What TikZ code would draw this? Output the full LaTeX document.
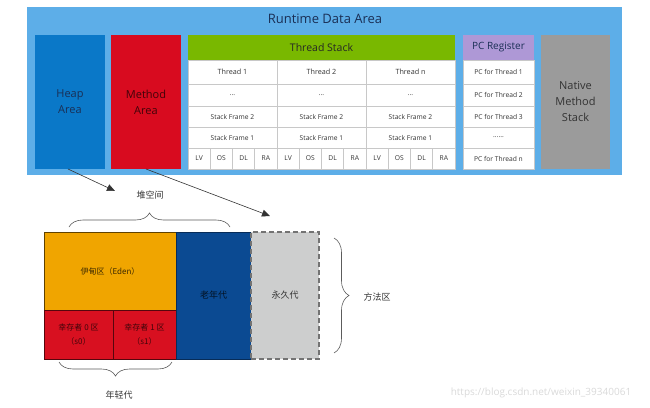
\documentclass[tikz,border=0pt]{standalone}
\usepackage{fontspec}
\setmainfont{Open Sans}
\newfontfamily\cjk{Noto Sans CJK SC}
\usetikzlibrary{decorations.pathreplacing,arrows.meta}
\definecolor{rdacol}{HTML}{5DAEE8}
\definecolor{heapcol}{HTML}{0A78C8}
\definecolor{methcol}{HTML}{D80B1F}
\definecolor{tscol}{HTML}{79B800}
\definecolor{pccol}{HTML}{AE98D6}
\definecolor{natcol}{HTML}{9B9B9B}
\definecolor{edencol}{HTML}{F0A500}
\definecolor{survcol}{HTML}{D81020}
\definecolor{oldcol}{HTML}{0B4A92}
\definecolor{permcol}{HTML}{CDCECE}
\definecolor{gridcol}{HTML}{C8C8C8}
\definecolor{navytxt}{HTML}{1A2F55}
\definecolor{labtxt}{HTML}{333333}
\begin{document}
\begin{tikzpicture}[x=1pt,y=-1pt,
  box/.style={anchor=north west, inner sep=0pt, outer sep=0pt, align=center},
  cell/.style={box, draw=gridcol, fill=white, line width=0.6pt, text=labtxt, font=\fontsize{6.7}{8}\selectfont},
  bigtxt/.style={font=\fontsize{11}{16}\selectfont},
  cjklab/.style={font=\cjk\fontsize{9}{11}\selectfont, text=labtxt},
  arr/.style={draw=labtxt, line width=0.6pt, -{Triangle[length=8pt,width=7pt]}},
  brc/.style={draw=labtxt!80, line width=0.6pt, decorate}
]
\useasboundingbox (0,0) rectangle (650,407);
% Runtime data area
\node[box, fill=rdacol, minimum width=595pt, minimum height=168pt] (rda) at (27,7) {};
\node[font=\fontsize{13}{15}\selectfont, text=navytxt] (rdat) at (325,19) {Runtime Data Area};
\node[box, bigtxt, fill=heapcol, text=navytxt, minimum width=70pt, minimum height=134pt] (heap) at (35,35) {Heap\\Area};
\node[box, bigtxt, fill=methcol, text=black!70!methcol, minimum width=70pt, minimum height=134pt] (meth) at (111,35) {Method\\Area};
% Thread stack
\node[box, fill=tscol, text=black!85, font=\fontsize{10.5}{13}\selectfont, minimum width=267pt, minimum height=25pt] (ts) at (188,35) {Thread Stack};
\foreach \i/\t in {1/1,2/2,3/n}{
  \pgfmathsetmacro{\xx}{188+(\i-1)*89}
  \node[cell, font=\fontsize{7.2}{8}\selectfont, minimum width=89pt, minimum height=24pt] (t\i r1) at (\xx,60) {Thread \t};
  \node[cell, minimum width=89pt, minimum height=22pt] (t\i r2) at (\xx,84) {...};
  \node[cell, minimum width=89pt, minimum height=21pt] (t\i r3) at (\xx,106) {Stack Frame 2};
  \node[cell, minimum width=89pt, minimum height=21pt] (t\i r4) at (\xx,127) {Stack Frame 1};
  \foreach \j/\s in {1/LV,2/OS,3/DL,4/RA}{
    \pgfmathsetmacro{\sx}{\xx+(\j-1)*22.25}
    \node[cell, minimum width=22.25pt, minimum height=21pt] (t\i s\j) at (\sx,148) {\s};
  }
}
% PC register
\node[box, fill=pccol, text=navytxt, font=\fontsize{10}{12}\selectfont, minimum width=71pt, minimum height=25pt] (pc) at (463,35) {PC Register};
\node[cell, minimum width=71pt, minimum height=24pt] (pc1) at (463,60) {PC for Thread 1};
\node[cell, minimum width=71pt, minimum height=22pt] (pc2) at (463,84) {PC for Thread 2};
\node[cell, minimum width=71pt, minimum height=21pt] (pc3) at (463,106) {PC for Thread 3};
\node[cell, minimum width=71pt, minimum height=21pt] (pc4) at (463,127) {......};
\node[cell, minimum width=71pt, minimum height=21pt] (pc5) at (463,148) {PC for Thread n};
% Native
\node[box, bigtxt, fill=natcol, text=black!80, minimum width=69pt, minimum height=134pt] (nat) at (541,35) {Native\\Method\\Stack};
% Heap detail
\node[box, cjklab, fill=edencol, draw=black!60!edencol, line width=0.6pt, text=black!75!edencol, font=\cjk\fontsize{8}{10}\selectfont, minimum width=132pt, minimum height=78pt] (eden) at (44,232) {伊甸区（Eden）};
\node[box, cjklab, fill=survcol, draw=black!60!survcol, line width=0.6pt, text=black!70!survcol, font=\cjk\fontsize{8}{14}\selectfont, minimum width=69pt, minimum height=49pt] (s0) at (44,310) {幸存者 0 区\\（s0）};
\node[box, cjklab, fill=survcol, draw=black!60!survcol, line width=0.6pt, text=black!70!survcol, font=\cjk\fontsize{8}{14}\selectfont, minimum width=63pt, minimum height=49pt] (s1) at (113,310) {幸存者 1 区\\（s1）};
\node[box, cjklab, fill=oldcol, draw=black!40!oldcol, line width=0.6pt, text=black!75!oldcol, minimum width=75pt, minimum height=127pt] (old) at (176,232) {老年代};
\node[box, cjklab, fill=permcol, draw=black!55, dashed, dash pattern=on 5pt off 3pt, line width=1.1pt, text=labtxt, minimum width=68pt, minimum height=127pt] (perm) at (251,232) {永久代};
% arrows
\coordinate (a1) at (115,191);
\coordinate (a2) at (270,216);
\draw[arr] ([xshift=-2pt]heap.south) -- (a1);
\draw[arr] (meth.south) -- (a2);
% braces
\coordinate (b1l) at (69,227);
\coordinate (b1r) at (230,227);
\draw[brc, decoration={brace, amplitude=14pt}] (b1l) -- (b1r);
\node[cjklab] (heaplab) at (150,195) {堆空间};
\coordinate (b2r) at (172,362);
\coordinate (b2l) at (59,362);
\draw[brc, decoration={brace, amplitude=14pt}] (b2r) -- (b2l);
\node[cjklab] (younglab) at (119,395) {年轻代};
\coordinate (b3t) at (334,238);
\coordinate (b3b) at (334,353);
\draw[brc, decoration={brace, amplitude=15pt}] (b3t) -- (b3b);
\node[cjklab] (methlab) at (377,297) {方法区};
% watermark
\node[text=black!15, font=\fontsize{10}{12}\selectfont] (wm) at (541,393) {https://blog.csdn.net/weixin\_39340061};
\end{tikzpicture}
\end{document}
